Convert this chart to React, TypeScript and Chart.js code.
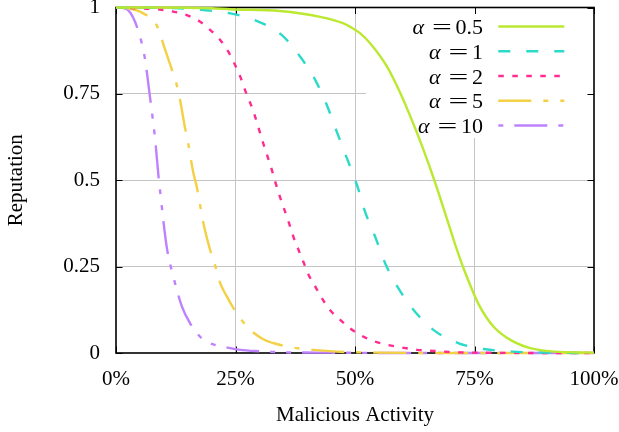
import React, { useEffect, useRef } from 'react';
import { Chart, registerables } from 'chart.js';

Chart.register(...registerables);

const FONT = '"Liberation Serif", "Times New Roman", serif';

const xTickValues = [0, 25, 50, 75, 100];
const xTickLabels = ['0%', '25%', '50%', '75%', '100%'];
const yTickValues = [0, 0.25, 0.5, 0.75, 1];
const yTickLabels = ['0', '0.25', '0.5', '0.75', '1'];

const xTitle = 'Malicious Activity';
const yTitle = 'Reputation';

const alphaLabels = ['0.5', '1', '2', '5', '10'];
const colors = ['#bbe830', '#2bdac9', '#ff2b91', '#f4d044', '#bf82ff'];
const dashes: number[][] = [[], [12, 16], [5.5, 8.5], [33, 12, 5, 12], [33, 11, 5, 11, 5, 11]];
const legendDashOffsets = [0, 0, 0, 0, 60];

// alpha = 0.5
const xA05 = [0, 10, 20, 23.9, 34.3, 42.7, 47.6, 49, 51.1, 53.2, 56.7, 59.5, 61.9, 64, 66.6, 69.2, 71.3, 73.1, 75.9, 79, 82.5, 86.7, 91.6, 100];
const yA05 = [1, 1, 0.998, 0.995, 0.99, 0.973, 0.954, 0.944, 0.925, 0.896, 0.829, 0.752, 0.674, 0.6, 0.5, 0.39, 0.3, 0.231, 0.14, 0.076, 0.038, 0.014, 0.004, 0.001];
// alpha = 1
const xA1 = [0, 10, 18, 23.9, 29.8, 34.7, 38.5, 41.7, 44.1, 46.2, 48.3, 50.4, 52.1, 54.2, 56.3, 59.1, 62.3, 66.4, 71.7, 77.3, 83, 90, 100];
const yA1 = [1, 0.999, 0.993, 0.983, 0.959, 0.92, 0.858, 0.79, 0.718, 0.64, 0.564, 0.487, 0.409, 0.337, 0.26, 0.187, 0.124, 0.067, 0.028, 0.011, 0.004, 0.001, 0];
// alpha = 2
const xA2 = [0, 5.7, 9.2, 12, 14.8, 17.6, 19.7, 21.8, 23.5, 24.9, 26, 27, 28.1, 29.1, 30.8, 32.6, 33.3, 34.3, 36.1, 37.1, 38.2, 39.2, 40.3, 41.7, 43.1, 44.8, 46.9, 49, 51.8, 54.2, 57, 60.2, 63, 66.4, 71.3, 80, 100];
const yA2 = [1, 0.997, 0.994, 0.988, 0.978, 0.959, 0.935, 0.906, 0.872, 0.834, 0.8, 0.761, 0.723, 0.684, 0.607, 0.53, 0.496, 0.452, 0.38, 0.337, 0.298, 0.264, 0.226, 0.192, 0.158, 0.124, 0.096, 0.071, 0.047, 0.033, 0.023, 0.015, 0.009, 0.006, 0.002, 0.0005, 0];
// alpha = 5
const xA5 = [0, 2.9, 5.7, 8.5, 10.3, 11.6, 12.7, 13.4, 14.4, 15.1, 16.2, 16.9, 18.3, 19.7, 20.7, 21.8, 23.2, 24.6, 26, 28.1, 30.8, 33.6, 36.8, 41.3, 46.2, 55, 70, 100];
const yA5 = [1, 0.997, 0.983, 0.949, 0.877, 0.824, 0.776, 0.732, 0.655, 0.607, 0.52, 0.481, 0.375, 0.298, 0.255, 0.202, 0.163, 0.129, 0.1, 0.067, 0.04, 0.026, 0.016, 0.009, 0.004, 0.001, 0, 0];
// alpha = 10
const xA10 = [0, 2, 3, 4, 5.4, 6.1, 7.1, 8.2, 8.9, 9.2, 10.6, 12, 13.8, 15.5, 17.6, 19.7, 22.5, 26, 30, 35, 45, 60, 100];
const yA10 = [1, 0.997, 0.985, 0.958, 0.896, 0.848, 0.742, 0.617, 0.51, 0.472, 0.308, 0.221, 0.134, 0.086, 0.047, 0.028, 0.018, 0.009, 0.005, 0.002, 0.001, 0, 0];

const seriesX = [xA05, xA1, xA2, xA5, xA10];
const seriesY = [yA05, yA1, yA2, yA5, yA10];

const framePlugin = {
  id: 'gnuFrame',
  beforeDatasetsDraw(chart: any) {
    const { ctx, chartArea: a, scales } = chart;
    ctx.save();
    ctx.fillStyle = '#ffffff';
    ctx.fillRect(a.right - 228, a.top, 228, 130.5);
    ctx.strokeStyle = '#000';
    ctx.lineWidth = 1;
    ctx.beginPath();
    for (const v of xTickValues) {
      const px = Math.round(scales.x.getPixelForValue(v)) + 0.5;
      ctx.moveTo(px, a.bottom); ctx.lineTo(px, a.bottom - 6.5);
      ctx.moveTo(px, a.top); ctx.lineTo(px, a.top + 6.5);
    }
    for (const v of yTickValues) {
      const py = Math.round(scales.y.getPixelForValue(v)) + 0.5;
      ctx.moveTo(a.left, py); ctx.lineTo(a.left + 6.5, py);
      ctx.moveTo(a.right, py); ctx.lineTo(a.right - 6.5, py);
    }
    ctx.stroke();
    ctx.lineWidth = 1.6;
    ctx.strokeRect(a.left, a.top, a.right - a.left, a.bottom - a.top);
    ctx.restore();
  },
  afterDatasetsDraw(chart: any) {
    const { ctx, chartArea: a } = chart;
    ctx.save();
    const textRight = a.right - 111;
    const lx0 = a.right - 95.7;
    const lx1 = a.right - 29.7;
    for (let i = 0; i < alphaLabels.length; i++) {
      const y = a.top + 19 + i * 24.75;
      const base = y + 7.5;
      ctx.fillStyle = '#000';
      ctx.font = `22px ${FONT}`;
      ctx.textAlign = 'right';
      ctx.textBaseline = 'alphabetic';
      const num = alphaLabels[i];
      const numW = ctx.measureText(num).width;
      ctx.fillText(num, textRight, base);
      const eqC = textRight - numW - 13.5;
      ctx.save();
      ctx.translate(eqC, base);
      ctx.scale(1.6, 1);
      ctx.textAlign = 'center';
      ctx.fillText('=', 0, 0);
      ctx.restore();
      ctx.font = `italic 22px ${FONT}`;
      ctx.textAlign = 'right';
      ctx.fillText('\u03B1', eqC - 18, base);
      ctx.beginPath();
      ctx.setLineDash(dashes[i]);
      ctx.lineDashOffset = legendDashOffsets[i];
      ctx.strokeStyle = colors[i];
      ctx.lineWidth = 2.6;
      ctx.moveTo(lx0, y);
      ctx.lineTo(lx1, y);
      ctx.stroke();
    }
    ctx.restore();
  },
};

export default function App() {
  const ref = useRef<HTMLCanvasElement | null>(null);
  useEffect(() => {
    if (!ref.current) return;
    const datasets = alphaLabels.map((lab, i) => ({
      label: `\u03B1 = ${lab}`,
      data: seriesX[i].map((x, j) => ({ x, y: seriesY[i][j] })),
      borderColor: colors[i],
      backgroundColor: colors[i],
      borderWidth: 2.4,
      borderDash: dashes[i],
      pointRadius: 0,
      fill: false,
      cubicInterpolationMode: 'monotone' as const,
      clip: 6,
    }));
    const chart = new Chart(ref.current, {
      type: 'line',
      data: { datasets },
      options: {
        animation: false,
        responsive: true,
        maintainAspectRatio: false,
        layout: { padding: { left: 0, right: 25, top: 7.5, bottom: 0 } },
        plugins: { legend: { display: false }, tooltip: { enabled: false } },
        scales: {
          x: {
            type: 'linear',
            min: 0,
            max: 100,
            afterFit: (s: any) => { s.height = 79; s.paddingLeft = 0; s.paddingRight = 0; },
            afterBuildTicks: (s: any) => { s.ticks = xTickValues.map((v) => ({ value: v })); },
            ticks: {
              padding: 14,
              color: '#000',
              font: { family: FONT, size: 21 },
              maxRotation: 0,
              callback: (v: any) => xTickLabels[xTickValues.indexOf(Number(v))] ?? '',
            },
            grid: {
              drawTicks: false,
              lineWidth: 1,
              color: (c: any) => (c.tick && (c.tick.value === 0 || c.tick.value === 100) ? 'rgba(0,0,0,0)' : '#c4c4c4'),
            },
            border: { display: false },
            title: { display: true, text: xTitle, color: '#000', font: { family: FONT, size: 21 }, padding: { top: 0, bottom: 4 } },
          },
          y: {
            type: 'linear',
            min: 0,
            max: 1,
            afterFit: (s: any) => { s.width = 116; s.paddingTop = 0; s.paddingBottom = 0; },
            afterBuildTicks: (s: any) => { s.ticks = yTickValues.map((v) => ({ value: v })); },
            ticks: {
              padding: 16,
              color: '#000',
              font: { family: FONT, size: 21 },
              callback: (v: any) => yTickLabels[yTickValues.indexOf(Number(v))] ?? '',
            },
            grid: {
              drawTicks: false,
              lineWidth: 1,
              color: (c: any) => (c.tick && (c.tick.value === 0 || c.tick.value === 1) ? 'rgba(0,0,0,0)' : '#c4c4c4'),
            },
            border: { display: false },
            title: { display: true, text: yTitle, color: '#000', font: { family: FONT, size: 21 }, padding: { top: 4, bottom: 0 } },
          },
        },
      },
      plugins: [framePlugin],
    });
    return () => chart.destroy();
  }, []);
  return (
    <div style={{ position: 'fixed', left: 0, top: 0, width: 619, height: 432, background: '#fff' }}>
      <canvas ref={ref} />
    </div>
  );
}
